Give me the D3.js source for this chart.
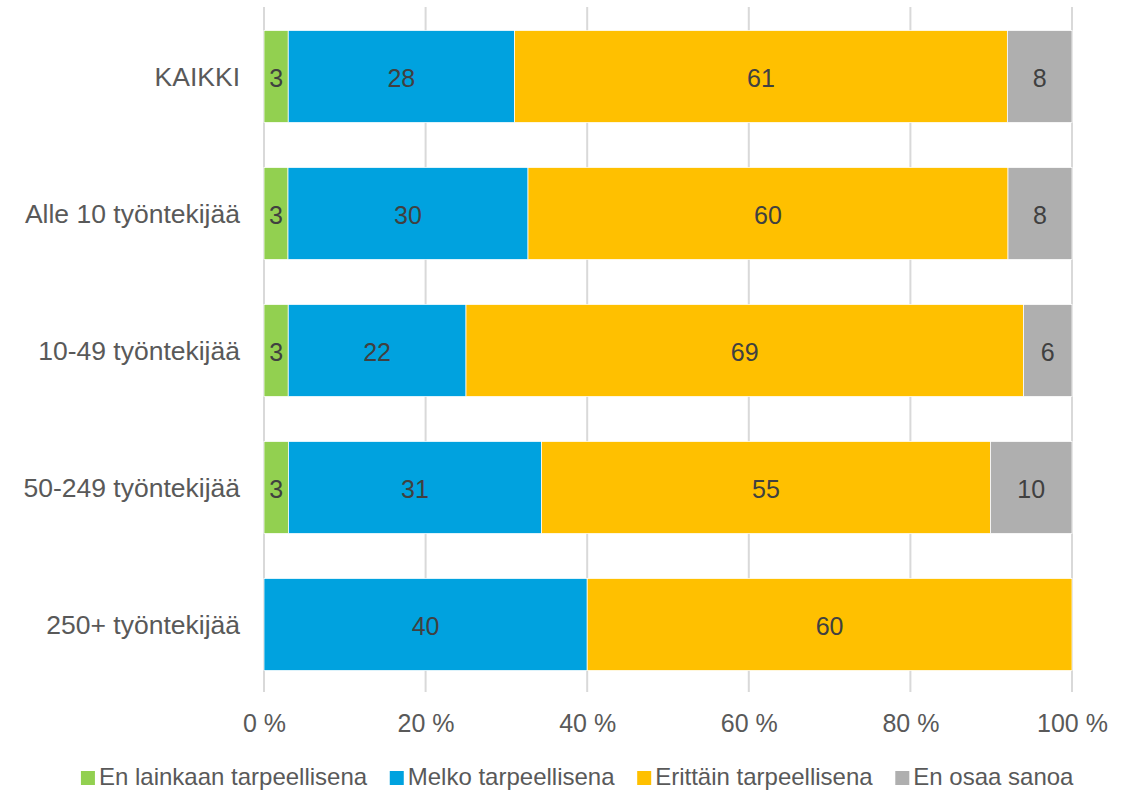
<!DOCTYPE html>
<html>
<head>
<meta charset="utf-8">
<script src="https://cdn.jsdelivr.net/npm/d3@7/dist/d3.min.js"></script>
<style>
  html, body { margin: 0; padding: 0; background: #fff; }
  svg { display: block; font-family: "Liberation Sans", Arial, sans-serif; }
</style>
</head>
<body>
<svg id="chart" width="1135" height="790"></svg>
<script>
const categories = ["KAIKKI", "Alle 10 työntekijää", "10-49 työntekijää", "50-249 työntekijää", "250+ työntekijää"];
const seriesNames = ["En lainkaan tarpeellisena", "Melko tarpeellisena", "Erittäin tarpeellisena", "En osaa sanoa"];
const enLainkaan = [3, 3, 3, 3, 0];
const melko = [28, 30, 22, 31, 40];
const erittain = [61, 60, 69, 55, 60];
const enOsaa = [8, 8, 6, 10, 0];
const tickLabels = ["0 %", "20 %", "40 %", "60 %", "80 %", "100 %"];
const colors = ["#92D050", "#00A2DF", "#FFC000", "#AFAFAF"];

const seriesValues = [enLainkaan, melko, erittain, enOsaa];
const rows = categories.map((c, i) => {
  const r = { category: c };
  seriesNames.forEach((s, j) => r[s] = seriesValues[j][i]);
  return r;
});

const svg = d3.select("#chart");
const x = d3.scaleLinear().domain([0, 1]).range([264, 1072]);
const y = d3.scaleBand().domain(categories).range([8, 693]).paddingInner(0.328).paddingOuter(0.164);

// gridlines
const ticks = d3.range(0, 1.0001, 0.2);
svg.append("g").selectAll("line").data(ticks).join("line")
  .attr("x1", d => x(d)).attr("x2", d => x(d))
  .attr("y1", 7).attr("y2", 692)
  .attr("stroke", "#D9D9D9").attr("stroke-width", 2);

const stack = d3.stack().keys(seriesNames).offset(d3.stackOffsetExpand);
const stacked = stack(rows);

const layers = svg.append("g").selectAll("g").data(stacked).join("g")
  .attr("fill", (d, i) => colors[i]);

layers.selectAll("rect").data(d => d.map(p => ({ p, key: d.key }))).join("rect")
  .attr("x", d => x(d.p[0]))
  .attr("width", d => Math.max(0, x(d.p[1]) - x(d.p[0])))
  .attr("y", d => y(d.p.data.category))
  .attr("height", y.bandwidth())
  .attr("stroke", "#fff").attr("stroke-width", 0.75);

// value labels
svg.append("g").selectAll("g").data(stacked).join("g")
  .selectAll("text").data(d => d.map(p => ({ p, key: d.key })).filter(d => d.p.data[d.key] > 0)).join("text")
  .attr("x", d => (x(d.p[0]) + x(d.p[1])) / 2)
  .attr("y", d => y(d.p.data.category) + y.bandwidth() / 2)
  .attr("dy", "0.4em")
  .attr("text-anchor", "middle")
  .attr("font-size", 25)
  .attr("fill", "#404040")
  .text(d => d.p.data[d.key]);

// category axis
const yAxis = d3.axisLeft(y).tickSize(0).tickPadding(0);
const gy = svg.append("g").attr("transform", "translate(240,1)").call(yAxis);
gy.select(".domain").remove();
gy.selectAll("text").attr("font-size", 26.5).attr("fill", "#595959").attr("font-family", "Liberation Sans, Arial, sans-serif");

// x axis
const xAxis = d3.axisBottom(x).tickValues(ticks).tickSize(0).tickPadding(0)
  .tickFormat((d, i) => tickLabels[i]);
const gx = svg.append("g").attr("transform", "translate(0,714)").call(xAxis);
gx.select(".domain").remove();
gx.selectAll("text").attr("font-size", 25).attr("fill", "#595959").attr("font-family", "Liberation Sans, Arial, sans-serif");

// legend
const legend = svg.append("g").attr("font-size", 24).attr("fill", "#595959");
const items = legend.selectAll("g").data(seriesNames).join("g");
items.append("rect").attr("width", 14).attr("height", 14).attr("y", -12)
  .attr("fill", (d, i) => colors[i]);
items.append("text").attr("x", 18).attr("y", 0).attr("dy", "0.1em").text(d => d);
const gap = 22;
const widths = [];
items.each(function() { widths.push(this.getBBox().width); });
const total = d3.sum(widths) + gap * (widths.length - 1);
let start = (85 + 1070) / 2 - total / 2;
items.attr("transform", (d, i) => {
  const tx = start + d3.sum(widths.slice(0, i)) + gap * i;
  return `translate(${tx},783)`;
});
</script>
</body>
</html>
